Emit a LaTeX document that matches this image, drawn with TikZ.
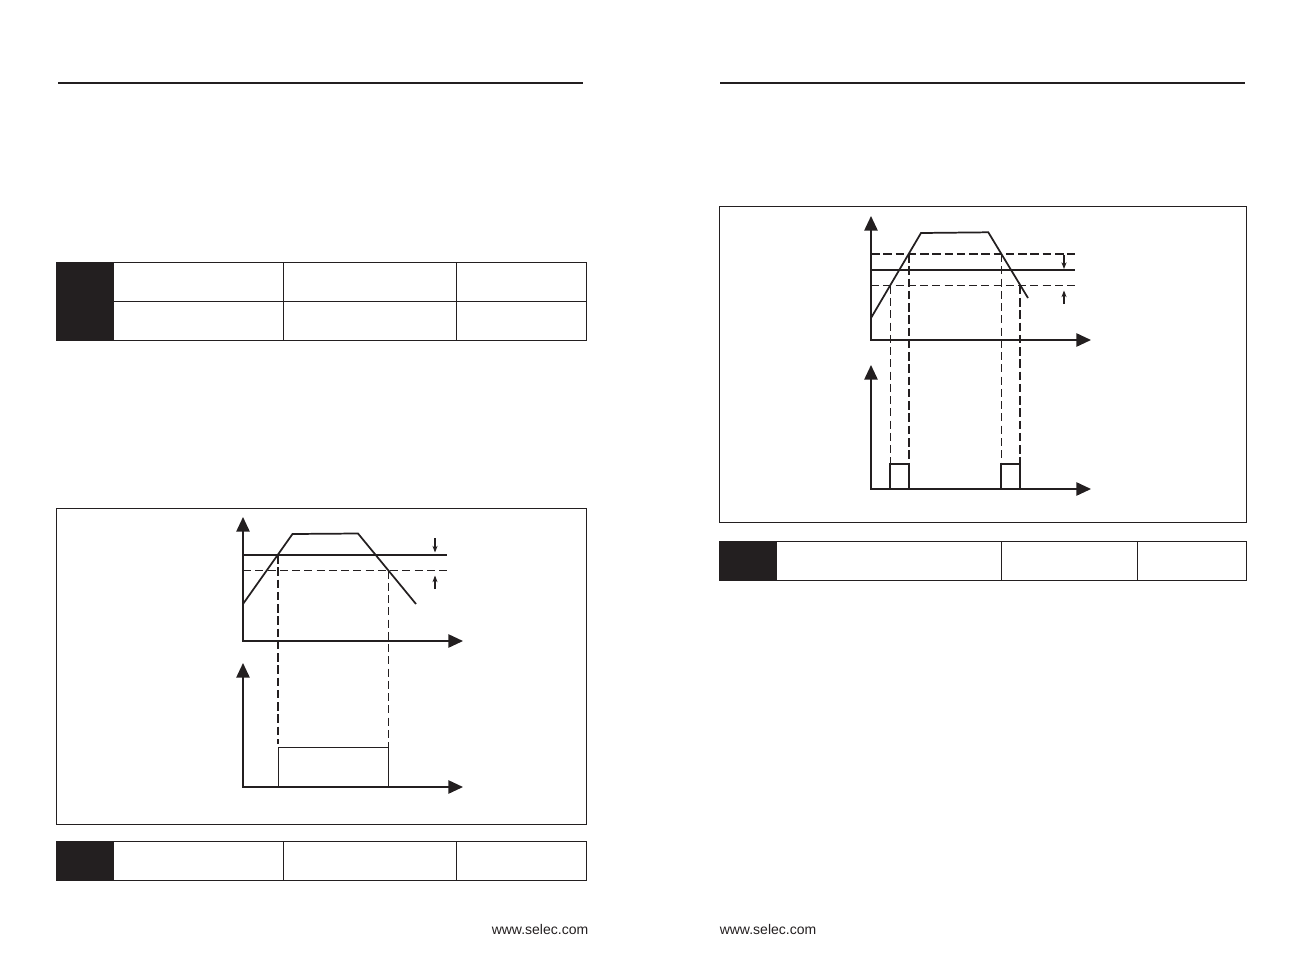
\documentclass[tikz,border=0pt]{standalone}
\usepackage{fontspec}
\setmainfont{Liberation Sans}
\usetikzlibrary{arrows.meta}
\definecolor{ink}{HTML}{231F20}
\tikzset{
  rule/.style={draw=ink,line width=1.5pt},
  frame/.style={draw=ink,line width=0.75pt},
  cell/.style={draw=ink,line width=0.9pt},
  blackcell/.style={fill=ink,draw=ink,line width=0.5pt},
  axis/.style={draw=ink,line width=1.25pt,line join=miter,{Triangle[length=11pt,width=10pt]}-{Triangle[length=11pt,width=10pt]}},
  curve/.style={draw=ink,line width=1.3pt,line join=miter},
  setpoint/.style={draw=ink,line width=1.8pt},
  thinband/.style={draw=ink,line width=0.75pt,dash pattern=on 6pt off 3.2pt},
  thickband/.style={draw=ink,line width=1.75pt,dash pattern=on 6.4pt off 2.8pt},
  pulse/.style={draw=ink,line width=0.9pt},
  pulsethick/.style={draw=ink,line width=1.5pt},
  tick/.style={draw=ink,line width=0.8pt,-{Stealth[length=5pt,width=3.8pt]}},
  url/.style={text=ink,font=\fontsize{10.5pt}{12pt}\selectfont,inner sep=0pt}
}
\begin{document}
\begin{tikzpicture}[x=0.75pt,y=-0.75pt]
\useasboundingbox (0,0) rectangle (1304,964);
% header rules
\coordinate (hl1) at (58,83); \coordinate (hl2) at (583,83);
\coordinate (hr1) at (720,83); \coordinate (hr2) at (1245,83);
\draw[rule] (hl1) -- (hl2);
\draw[rule] (hr1) -- (hr2);
% table 1
\draw[blackcell] (56.5,262.5) rectangle (113.5,340.5);
\draw[cell] (113.5,262.5) rectangle (586.5,340.5);
\draw[cell] (113.5,301.5) -- (586.5,301.5);
\draw[cell] (283.5,262.5) -- (283.5,340.5);
\draw[cell] (456.5,262.5) -- (456.5,340.5);
% left frame
\draw[frame] (56.5,508.5) rectangle (586.5,824.5);
% left chart
\coordinate (a1t) at (243,517); \coordinate (a1o) at (243,641); \coordinate (a1r) at (463,641);
\coordinate (a2t) at (243,663); \coordinate (a2o) at (243,787); \coordinate (a2r) at (463,787);
\draw[axis] (a1t) -- (a1o) -- (a1r);
\draw[axis] (a2t) -- (a2o) -- (a2r);
\coordinate (c1) at (243,604); \coordinate (c2) at (292.5,534); \coordinate (c3) at (358,533.5); \coordinate (c4) at (416,604);
\draw[curve] (c1) -- (c2) -- (c3) -- (c4);
\coordinate (s1) at (243,555); \coordinate (s2) at (447,555);
\coordinate (d1) at (243,570.5); \coordinate (d2) at (447,570.5);
\draw[setpoint] (s1) -- (s2);
\draw[thinband] (d1) -- (d2);
\coordinate (v1t) at (278,555); \coordinate (v1b) at (278,744);
\coordinate (v2t) at (388.5,570.5); \coordinate (v2b) at (388.5,747);
\draw[thickband] (v1t) -- (v1b);
\draw[thinband] (v2t) -- (v2b);
\coordinate (p1) at (278.5,787); \coordinate (p2) at (278.5,747.5); \coordinate (p3) at (388.5,747.5); \coordinate (p4) at (388.5,787);
\draw[pulse] (p1) -- (p2) -- (p3) -- (p4);
\coordinate (m1a) at (435,538); \coordinate (m1b) at (435,552.5);
\coordinate (m2a) at (435,589); \coordinate (m2b) at (435,575.5);
\draw[tick] (m1a) -- (m1b);
\draw[tick] (m2a) -- (m2b);
% table 2
\draw[blackcell] (56.5,841.5) rectangle (113.5,880.5);
\draw[cell] (113.5,841.5) rectangle (586.5,880.5);
\draw[cell] (283.5,841.5) -- (283.5,880.5);
\draw[cell] (456.5,841.5) -- (456.5,880.5);
% right frame
\draw[frame] (719.5,206.5) rectangle (1246.5,522.5);
% right chart
\coordinate (b1t) at (871,216); \coordinate (b1o) at (871,340); \coordinate (b1r) at (1091,340);
\coordinate (b2t) at (871,365); \coordinate (b2o) at (871,489); \coordinate (b2r) at (1091,489);
\draw[axis] (b1t) -- (b1o) -- (b1r);
\draw[axis] (b2t) -- (b2o) -- (b2r);
\coordinate (e1) at (871,318); \coordinate (e2) at (921,233); \coordinate (e3) at (988.3,232.3); \coordinate (e4) at (1028,298);
\draw[curve] (e1) -- (e2) -- (e3) -- (e4);
\coordinate (f1) at (871,254); \coordinate (f2) at (1075,254);
\coordinate (g1) at (871,270); \coordinate (g2) at (1075,270);
\coordinate (h1) at (871,285.7); \coordinate (h2) at (1075,285.7);
\draw[thickband] (f1) -- (f2);
\draw[setpoint] (g1) -- (g2);
\draw[thinband] (h1) -- (h2);
\coordinate (w1t) at (890.3,285.7); \coordinate (w1b) at (890.3,464);
\coordinate (w2t) at (908.7,254); \coordinate (w2b) at (908.7,464);
\coordinate (w3t) at (1001.3,254); \coordinate (w3b) at (1001.3,464);
\coordinate (w4t) at (1020,285.7); \coordinate (w4b) at (1020,464);
\draw[thinband] (w1t) -- (w1b);
\draw[thickband] (w2t) -- (w2b);
\draw[thinband] (w3t) -- (w3b);
\draw[thickband] (w4t) -- (w4b);
\coordinate (q1) at (890,489); \coordinate (q2) at (890,463.5); \coordinate (q3) at (908.7,463.5); \coordinate (q4) at (908.7,489);
\coordinate (r1) at (1001,489); \coordinate (r2) at (1001,463.5); \coordinate (r3) at (1020,463.5); \coordinate (r4) at (1020,489);
\draw[pulsethick] (q1) -- (q2) -- (q3) -- (q4);
\draw[pulsethick] (r1) -- (r2) -- (r3) -- (r4);
\coordinate (n1a) at (1064,255); \coordinate (n1b) at (1064,269);
\coordinate (n2a) at (1064,304); \coordinate (n2b) at (1064,290.5);
\draw[tick] (n1a) -- (n1b);
\draw[tick] (n2a) -- (n2b);
% table 3
\draw[blackcell] (719.5,541.5) rectangle (776.5,580.5);
\draw[cell] (776.5,541.5) rectangle (1246.5,580.5);
\draw[cell,line width=1.2pt] (719.5,541.5) -- (1246.5,541.5);
\draw[cell] (1001.5,541.5) -- (1001.5,580.5);
\draw[cell] (1137.5,541.5) -- (1137.5,580.5);
% footers
\node[url,anchor=east] (urlL) at (588.5,929) {www.selec.com};
\node[url,anchor=west] (urlR) at (719.5,929) {www.selec.com};
\end{tikzpicture}
\end{document}
